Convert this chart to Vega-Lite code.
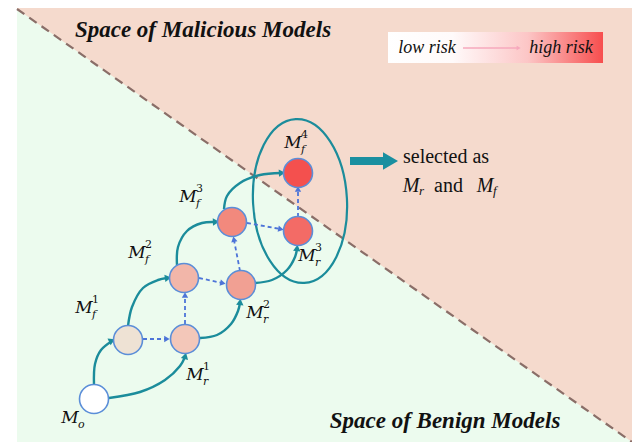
{
  "$schema": "https://vega.github.io/schema/vega-lite/v6.json",
  "width": 632,
  "height": 442,
  "padding": 0,
  "autosize": {"type": "none"},
  "background": "white",
  "config": {"view": {"stroke": null}},
  "datasets": {
    "bg": [{"x": 17, "x2": 632, "y": 8, "y2": 442}],
    "green": [{"x": 17, "y": 9, "yb": 442}, {"x": 632, "y": 442, "yb": 442}],
    "diag": [{"x": 17, "y": 9, "x2": 632, "y2": 442}],
    "titles": [
      {"x": 203, "y": 30, "text": "Space of Malicious Models"},
      {"x": 445, "y": 421, "text": "Space of Benign Models"}
    ],
    "legendbox": [{"x": 388, "x2": 603, "y": 32, "y2": 63}],
    "legendtext": [
      {"x": 427, "y": 48, "text": "low risk"},
      {"x": 561, "y": 48, "text": "high risk"}
    ],
    "legendarrow": [{"x": 463, "y": 48, "x2": 517, "y2": 48}],
    "legendhead": [{"x": 518, "y": 48, "angle": 90}],
    "ellipse": [{"x": 300, "y": 201}],
    "curves": [
      {"id": "c1", "o": 0, "x": 94, "y": 385},
      {"id": "c1", "o": 1, "x": 95, "y": 364},
      {"id": "c1", "o": 2, "x": 101, "y": 350},
      {"id": "c1", "o": 3, "x": 112, "y": 341},
      {"id": "c2", "o": 0, "x": 109, "y": 398},
      {"id": "c2", "o": 1, "x": 140, "y": 392},
      {"id": "c2", "o": 2, "x": 165, "y": 380},
      {"id": "c2", "o": 3, "x": 180, "y": 366},
      {"id": "c2", "o": 4, "x": 185, "y": 357},
      {"id": "c3", "o": 0, "x": 128, "y": 326},
      {"id": "c3", "o": 1, "x": 132, "y": 307},
      {"id": "c3", "o": 2, "x": 143, "y": 288},
      {"id": "c3", "o": 3, "x": 158, "y": 280},
      {"id": "c3", "o": 4, "x": 167, "y": 278},
      {"id": "c4", "o": 0, "x": 200, "y": 338},
      {"id": "c4", "o": 1, "x": 217, "y": 335},
      {"id": "c4", "o": 2, "x": 231, "y": 324},
      {"id": "c4", "o": 3, "x": 238, "y": 311},
      {"id": "c4", "o": 4, "x": 240, "y": 303},
      {"id": "c5", "o": 0, "x": 177, "y": 265},
      {"id": "c5", "o": 1, "x": 178, "y": 247},
      {"id": "c5", "o": 2, "x": 187, "y": 231},
      {"id": "c5", "o": 3, "x": 202, "y": 223},
      {"id": "c5", "o": 4, "x": 215, "y": 222},
      {"id": "c6", "o": 0, "x": 255, "y": 283},
      {"id": "c6", "o": 1, "x": 272, "y": 280},
      {"id": "c6", "o": 2, "x": 287, "y": 270},
      {"id": "c6", "o": 3, "x": 295, "y": 257},
      {"id": "c6", "o": 4, "x": 297, "y": 249},
      {"id": "c7", "o": 0, "x": 224, "y": 209},
      {"id": "c7", "o": 1, "x": 227, "y": 196},
      {"id": "c7", "o": 2, "x": 240, "y": 183},
      {"id": "c7", "o": 3, "x": 260, "y": 175},
      {"id": "c7", "o": 4, "x": 281, "y": 173}
    ],
    "tealheads": [
      {"x": 111, "y": 341, "angle": 65},
      {"x": 185, "y": 357, "angle": 15},
      {"x": 167, "y": 278, "angle": 82},
      {"x": 240, "y": 303, "angle": 5},
      {"x": 215, "y": 222, "angle": 88},
      {"x": 297, "y": 249, "angle": 5},
      {"x": 281, "y": 173, "angle": 87}
    ],
    "dashes": [
      {"x": 143, "y": 339, "x2": 166, "y2": 339},
      {"x": 185, "y": 324, "x2": 185, "y2": 296},
      {"x": 199, "y": 278, "x2": 222, "y2": 283},
      {"x": 240, "y": 271, "x2": 234, "y2": 240},
      {"x": 247, "y": 223, "x2": 280, "y2": 229},
      {"x": 298, "y": 217, "x2": 298, "y2": 190}
    ],
    "blueheads": [
      {"x": 166, "y": 339, "angle": 90},
      {"x": 185, "y": 296, "angle": 0},
      {"x": 222, "y": 283, "angle": 102},
      {"x": 234, "y": 240, "angle": -11},
      {"x": 280, "y": 229, "angle": 100},
      {"x": 298, "y": 190, "angle": 0}
    ],
    "nodes": [
      {"name": "Mo", "x": 94, "y": 399, "risk": 0},
      {"name": "Mf1", "x": 128, "y": 340, "risk": 1},
      {"name": "Mr1", "x": 185, "y": 339, "risk": 2},
      {"name": "Mf2", "x": 184, "y": 278, "risk": 3},
      {"name": "Mr2", "x": 241, "y": 285, "risk": 4},
      {"name": "Mf3", "x": 232, "y": 222, "risk": 5},
      {"name": "Mr3", "x": 298, "y": 231, "risk": 6},
      {"name": "Mf4", "x": 298, "y": 173, "risk": 7}
    ],
    "labels": [
      {"x": 84, "y": 308, "sub": "f", "sup": "1"},
      {"x": 137, "y": 253, "sub": "f", "sup": "2"},
      {"x": 188, "y": 197, "sub": "f", "sup": "3"},
      {"x": 293, "y": 143, "sub": "f", "sup": "4"},
      {"x": 195, "y": 375, "sub": "r", "sup": "1"},
      {"x": 255, "y": 313, "sub": "r", "sup": "2"},
      {"x": 307, "y": 256, "sub": "r", "sup": "3"},
      {"x": 70, "y": 418, "sub": "o", "sup": ""}
    ],
    "sellabels": [
      {"x": 411, "y": 186, "sub": "r"},
      {"x": 485, "y": 186, "sub": "f"}
    ],
    "plain": [
      {"x": 403, "y": 157, "text": "selected as"},
      {"x": 434, "y": 186, "text": "and"}
    ],
    "bigarrow": [{"x": 350, "y": 161, "x2": 387, "y2": 161}],
    "bighead": [{"x": 388, "y": 161, "angle": 90}]
  },
  "encoding": {
    "x": {"field": "x", "type": "quantitative", "scale": {"domain": [0, 632], "nice": false, "zero": false}, "axis": null},
    "y": {"field": "y", "type": "quantitative", "scale": {"domain": [0, 442], "nice": false, "zero": false, "reverse": true}, "axis": null}
  },
  "layer": [
    {
      "data": {"name": "bg"},
      "mark": {"type": "rect", "color": "#f5dacd"},
      "encoding": {"x2": {"field": "x2"}, "y2": {"field": "y2"}}
    },
    {
      "data": {"name": "green"},
      "mark": {"type": "area", "color": "#ecfbee", "opacity": 1},
      "encoding": {"y2": {"field": "yb"}}
    },
    {
      "data": {"name": "diag"},
      "mark": {"type": "rule", "color": "#8a6e68", "strokeWidth": 2.2, "strokeDash": [9, 6]},
      "encoding": {"x2": {"field": "x2"}, "y2": {"field": "y2"}}
    },
    {
      "data": {"name": "titles"},
      "mark": {"type": "text", "font": "Liberation Serif", "fontSize": 23, "fontWeight": "bold", "fontStyle": "italic", "color": "#111111", "align": "center", "baseline": "middle"},
      "encoding": {"text": {"field": "text"}}
    },
    {
      "data": {"name": "legendbox"},
      "mark": {"type": "rect", "fill": {"gradient": "linear", "x1": 0, "x2": 1, "y1": 0, "y2": 0, "stops": [{"offset": 0, "color": "#ffffff"}, {"offset": 0.3, "color": "#fffafa"}, {"offset": 0.65, "color": "#fcc6c6"}, {"offset": 1, "color": "#f74e4e"}]}},
      "encoding": {"x2": {"field": "x2"}, "y2": {"field": "y2"}}
    },
    {
      "data": {"name": "legendarrow"},
      "mark": {"type": "rule", "color": "#f6a8bd", "strokeWidth": 1.5},
      "encoding": {"x2": {"field": "x2"}, "y2": {"field": "y2"}}
    },
    {
      "data": {"name": "legendhead"},
      "mark": {"type": "point", "shape": "triangle", "size": 22, "filled": true, "color": "#f6a8bd", "opacity": 1},
      "encoding": {"angle": {"field": "angle", "type": "quantitative", "scale": null}}
    },
    {
      "data": {"name": "legendtext"},
      "mark": {"type": "text", "font": "Liberation Serif", "fontSize": 18, "fontStyle": "italic", "color": "#111111", "align": "center", "baseline": "middle"},
      "encoding": {"text": {"field": "text"}}
    },
    {
      "data": {"name": "ellipse"},
      "mark": {"type": "point", "shape": "M0,-1C0.3165,-1,0.573,-0.5523,0.573,0C0.573,0.5523,0.3165,1,0,1C-0.3165,1,-0.573,0.5523,-0.573,0C-0.573,-0.5523,-0.3165,-1,0,-1Z", "size": 26896, "filled": false, "color": "#1b8c9b", "stroke": "#1b8c9b", "strokeWidth": 2.2, "angle": -3, "opacity": 1}
    },
    {
      "data": {"name": "curves"},
      "mark": {"type": "line", "interpolate": "catmull-rom", "color": "#1b8c9b", "strokeWidth": 2.4},
      "encoding": {"detail": {"field": "id"}, "order": {"field": "o", "type": "quantitative"}}
    },
    {
      "data": {"name": "tealheads"},
      "mark": {"type": "point", "shape": "triangle", "size": 55, "filled": true, "color": "#1b8c9b", "opacity": 1},
      "encoding": {"angle": {"field": "angle", "type": "quantitative", "scale": null}}
    },
    {
      "data": {"name": "dashes"},
      "mark": {"type": "rule", "color": "#4d74d8", "strokeWidth": 1.8, "strokeDash": [4, 3]},
      "encoding": {"x2": {"field": "x2"}, "y2": {"field": "y2"}}
    },
    {
      "data": {"name": "blueheads"},
      "mark": {"type": "point", "shape": "triangle", "size": 40, "filled": true, "color": "#4d74d8", "opacity": 1},
      "encoding": {"angle": {"field": "angle", "type": "quantitative", "scale": null}}
    },
    {
      "data": {"name": "nodes"},
      "mark": {"type": "point", "shape": "circle", "size": 841, "filled": true, "stroke": "#5b8ed8", "strokeWidth": 1.6, "opacity": 1},
      "encoding": {
        "fill": {"field": "risk", "type": "ordinal", "scale": {"domain": [0, 1, 2, 3, 4, 5, 6, 7], "range": ["#ffffff", "#eee2d4", "#f3c7b9", "#f2b6a9", "#f1a093", "#f2897d", "#f36b66", "#f4504e"]}, "legend": null}
      }
    },
    {
      "data": {"name": "labels"},
      "mark": {"type": "text", "font": "DejaVu Serif", "fontSize": 17, "fontStyle": "italic", "color": "#111111", "align": "center", "baseline": "middle"},
      "encoding": {"text": {"value": "M"}}
    },
    {
      "data": {"name": "labels"},
      "mark": {"type": "text", "font": "DejaVu Serif", "fontSize": 11, "fontStyle": "italic", "color": "#111111", "align": "left", "baseline": "middle", "dx": 8, "dy": 7},
      "encoding": {"text": {"field": "sub"}}
    },
    {
      "data": {"name": "labels"},
      "mark": {"type": "text", "font": "DejaVu Serif", "fontSize": 11, "color": "#111111", "align": "left", "baseline": "middle", "dx": 8, "dy": -8},
      "encoding": {"text": {"field": "sup"}}
    },
    {
      "data": {"name": "sellabels"},
      "mark": {"type": "text", "font": "Liberation Serif", "fontSize": 20, "fontStyle": "italic", "color": "#111111", "align": "center", "baseline": "middle"},
      "encoding": {"text": {"value": "M"}}
    },
    {
      "data": {"name": "sellabels"},
      "mark": {"type": "text", "font": "Liberation Serif", "fontSize": 13, "fontStyle": "italic", "color": "#111111", "align": "left", "baseline": "middle", "dx": 8, "dy": 5},
      "encoding": {"text": {"field": "sub"}}
    },
    {
      "data": {"name": "plain"},
      "mark": {"type": "text", "font": "Liberation Serif", "fontSize": 20, "color": "#111111", "align": "left", "baseline": "middle"},
      "encoding": {"text": {"field": "text"}}
    },
    {
      "data": {"name": "bigarrow"},
      "mark": {"type": "rule", "color": "#1a8fa0", "strokeWidth": 8, "strokeCap": "butt"},
      "encoding": {"x2": {"field": "x2"}, "y2": {"field": "y2"}}
    },
    {
      "data": {"name": "bighead"},
      "mark": {"type": "point", "shape": "triangle", "size": 300, "filled": true, "color": "#1a8fa0", "opacity": 1},
      "encoding": {"angle": {"field": "angle", "type": "quantitative", "scale": null}}
    }
  ]
}
